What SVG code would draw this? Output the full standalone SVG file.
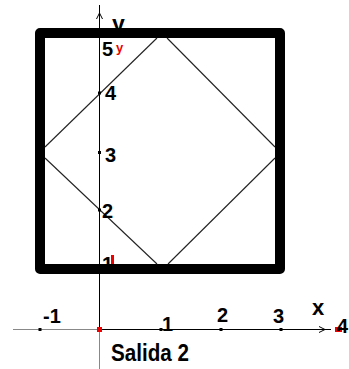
<svg xmlns="http://www.w3.org/2000/svg" width="349" height="369" viewBox="0 0 349 369">
<style>
.t{font-family:"Liberation Sans",Arial,sans-serif;font-size:20px;font-weight:bold;fill:#000}
.ax{stroke:#000;stroke-width:1;fill:none}
.axg{stroke:#888;stroke-width:1;fill:none}
.thin{stroke:#222;stroke-width:1.1;fill:none}
.tk{fill:#000}
.red{fill:#e00}
</style>
<g id="axes">
<line class="axg" x1="99.5" y1="329.5" x2="99.5" y2="369"/>
<line class="axg" x1="13" y1="329.5" x2="99.5" y2="329.5"/>
<line class="ax" x1="99.5" y1="5" x2="99.5" y2="329.5"/>
<line class="ax" x1="99.5" y1="329.5" x2="331" y2="329.5"/>
<polyline class="ax" points="96.5,19 99.5,13 102.5,19"/>
<polyline class="ax" points="319,326.5 325,329.5 319,332.5"/>
<text class="t" x="112" y="32" style="font-size:23px">y</text>
<text class="t" x="312" y="315" style="font-size:22px">x</text>
</g>
<g id="ylabel1">
<text class="t" x="102" y="271">1</text>
<rect class="red" x="111" y="255" width="3" height="9"/>
</g>
<g id="square">
<rect x="40" y="33" width="240" height="236" fill="none" stroke="#000" stroke-width="10" stroke-linejoin="round"/>
</g>
<g id="connectors">
<line class="thin" x1="45" y1="147" x2="157" y2="38"/>
<line class="thin" x1="167" y1="38" x2="275" y2="147"/>
<line class="thin" x1="275" y1="158" x2="168" y2="264"/>
<line class="thin" x1="157" y1="264" x2="45" y2="158"/>
</g>
<g id="ticks">
<rect class="tk" x="98" y="91.5" width="3" height="3"/>
<rect class="tk" x="98" y="151" width="3" height="3"/>
<rect class="tk" x="98" y="208.5" width="3" height="3"/>
<rect class="tk" x="38.5" y="328" width="3" height="3"/>
<rect class="tk" x="159.5" y="328" width="3" height="3"/>
<rect class="tk" x="219.5" y="328" width="3" height="3"/>
<rect class="tk" x="279.5" y="328" width="3" height="3"/>
<rect class="red" x="97" y="327" width="5" height="5"/>
<rect class="red" x="335" y="327" width="7" height="5"/>
<rect class="tk" x="337" y="328" width="3" height="3"/>
</g>
<g id="labels">
<text class="t" x="102" y="56">5</text>
<text class="t" x="116" y="52" style="font-size:13px;fill:#e00">y</text>
<text class="t" x="105" y="100">4</text>
<text class="t" x="105" y="162">3</text>
<text class="t" x="102" y="218">2</text>
<text class="t" x="43" y="323">-1</text>
<text class="t" x="162" y="331">1</text>
<text class="t" x="217" y="322">2</text>
<text class="t" x="273" y="323">3</text>
<text class="t" x="337" y="333">4</text>
<text class="t" x="111" y="361" style="font-size:24px" textLength="78" lengthAdjust="spacingAndGlyphs">Salida 2</text>
</g>
</svg>
